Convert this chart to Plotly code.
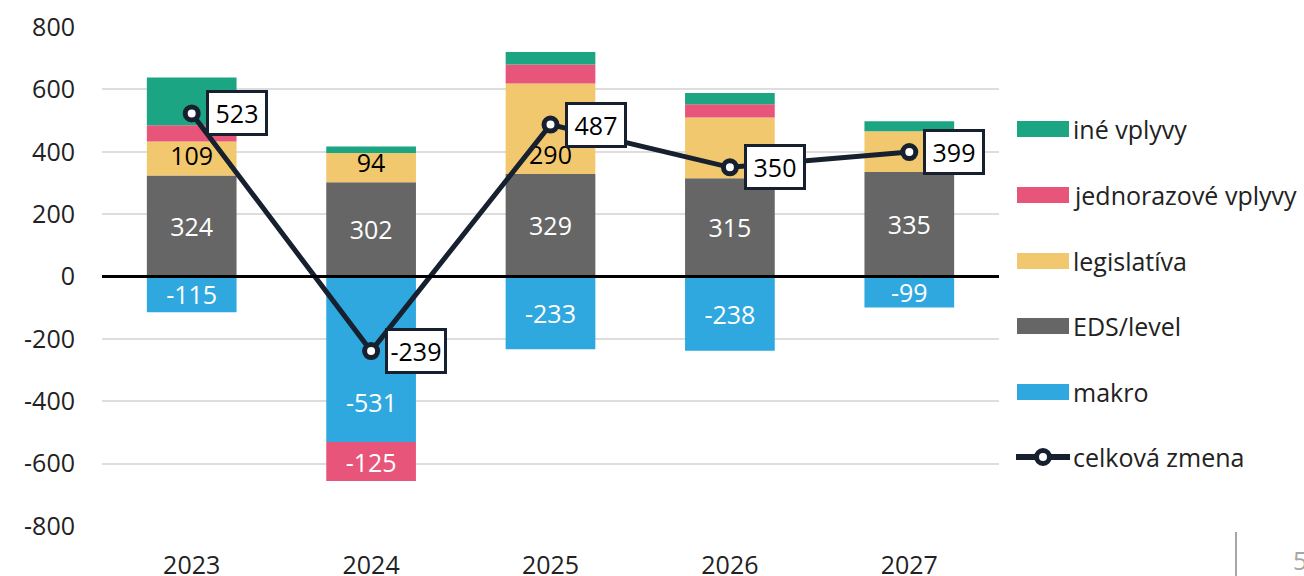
import plotly.graph_objects as go

# ---------------- data ----------------
years = ["2023", "2024", "2025", "2026", "2027"]
makro = [-115, -531, -233, -238, -99]
eds_level = [324, 302, 329, 315, 335]
legislativa = [109, 94, 290, 195, 131]
jednorazove = [52, -125, 61, 42, 0]
ine_vplyvy = [153, 21, 40, 36, 32]
celkova_zmena = [523, -239, 487, 350, 399]

y_ticks = [-800, -600, -400, -200, 0, 200, 400, 600, 800]
label_legislativa = [True, True, True, False, False]
label_jednorazove = [False, True, False, False, False]

# ---------------- styles ----------------
C_INE = "#1ba582"
C_JED = "#e8557a"
C_LEG = "#f2c86e"
C_EDS = "#666666"
C_MAK = "#2fa8df"
C_LINE = "#16202e"
FONT = "Open Sans"
FS = 25

W, H = 1304, 576
L, R, T, B = 102, 999, 27, 526


def px(x):
    return (x - L) / (R - L)


def py(y):
    return (B - y) / (B - T)


fig = go.Figure()

bar_common = dict(x=years, textposition="inside", insidetextanchor="middle",
                  textangle=0, marker_line_width=0, hoverinfo="skip",
                  showlegend=False, cliponaxis=False)

fig.add_trace(go.Bar(y=makro, name="makro", marker_color=C_MAK,
                     text=[str(v) if i != 1 else "" for i, v in enumerate(makro)],
                     insidetextfont=dict(color="white", family=FONT, size=FS),
                     **bar_common))
fig.add_trace(go.Bar(y=eds_level, name="EDS/level", marker_color=C_EDS,
                     text=[str(v) for v in eds_level],
                     insidetextfont=dict(color="white", family=FONT, size=FS),
                     **bar_common))
leg_common = dict(bar_common)
leg_common["insidetextanchor"] = "start"
fig.add_trace(go.Bar(y=legislativa, name="legislatíva", marker_color=C_LEG,
                     text=[str(v) if s else "" for v, s in zip(legislativa, label_legislativa)],
                     insidetextfont=dict(color="black", family=FONT, size=FS),
                     **leg_common))
fig.add_trace(go.Bar(y=jednorazove, name="jednorazové vplyvy", marker_color=C_JED,
                     text=[str(v) if s else "" for v, s in zip(jednorazove, label_jednorazove)],
                     insidetextfont=dict(color="white", family=FONT, size=FS),
                     **bar_common))
fig.add_trace(go.Bar(y=ine_vplyvy, name="iné vplyvy", marker_color=C_INE,
                     text=["" for _ in ine_vplyvy],
                     **bar_common))
fig.add_trace(go.Scatter(x=years, y=celkova_zmena, mode="lines+markers",
                         name="celková zmena",
                         line=dict(color=C_LINE, width=5),
                         marker=dict(size=13, color="white",
                                     line=dict(color=C_LINE, width=5)),
                         hoverinfo="skip", showlegend=False, cliponaxis=False))

annotations = []
# total-change labels (category index positions)
for i, v in enumerate(celkova_zmena):
    annotations.append(dict(x=i, y=v, xref="x", yref="y", text=str(v),
                            showarrow=False, xanchor="left", yanchor="middle",
                            xshift=14, bgcolor="white", bordercolor=C_LINE,
                            borderwidth=3, borderpad=3, width=50, height=34,
                            font=dict(family=FONT, size=FS, color="black")))
# makro label of 2024 (placed lower inside the bar, as in the original)
annotations.append(dict(x=1, y=makro[1] * 0.755, xref="x", yref="y",
                        text=str(makro[1]), showarrow=False,
                        font=dict(family=FONT, size=FS, color="white")))

shapes = []
# zero line above bars
shapes.append(dict(type="line", xref="paper", yref="y", x0=0, x1=1, y0=0, y1=0,
                   line=dict(color="black", width=3), layer="above"))

# custom legend
legend_items = [("iné vplyvy", C_INE, 129), ("jednorazové vplyvy", C_JED, 195),
                ("legislatíva", C_LEG, 261), ("EDS/level", C_EDS, 326),
                ("makro", C_MAK, 392)]
for name, col, yc in legend_items:
    shapes.append(dict(type="rect", xref="paper", yref="paper",
                       x0=px(1017), x1=px(1069), y0=py(yc + 8), y1=py(yc - 8),
                       fillcolor=col, line_width=0))
    annotations.append(dict(x=px(1071), y=py(yc), xref="paper", yref="paper",
                            text=name, showarrow=False, xanchor="left",
                            yanchor="middle",
                            font=dict(family=FONT, size=FS, color="#222222")))
yc = 457
shapes.append(dict(type="line", xref="paper", yref="paper",
                   x0=px(1016), x1=px(1070), y0=py(yc), y1=py(yc),
                   line=dict(color=C_LINE, width=6)))
shapes.append(dict(type="circle", xref="paper", yref="paper",
                   x0=px(1043 - 6.5), x1=px(1043 + 6.5), y0=py(yc + 6.5), y1=py(yc - 6.5),
                   fillcolor="white", line=dict(color=C_LINE, width=5)))
annotations.append(dict(x=px(1071), y=py(yc), xref="paper", yref="paper",
                        text="celková zmena", showarrow=False, xanchor="left",
                        yanchor="middle",
                        font=dict(family=FONT, size=FS, color="#222222")))

# slide page-number artefacts
shapes.append(dict(type="line", xref="paper", yref="paper",
                   x0=px(1236), x1=px(1236), y0=py(532), y1=py(580),
                   line=dict(color="#888888", width=1.5)))
annotations.append(dict(x=px(1291), y=py(560), xref="paper", yref="paper",
                        text="5", showarrow=False, xanchor="left", yanchor="middle",
                        font=dict(family=FONT, size=FS, color="#a6a6a6")))

fig.update_layout(
    width=W, height=H,
    margin=dict(l=L, r=W - R, t=T, b=H - B, pad=0, autoexpand=False),
    barmode="relative", bargap=0.5,
    paper_bgcolor="white", plot_bgcolor="white",
    font=dict(family=FONT, size=FS, color="#222222"),
    uniformtext=dict(minsize=FS, mode="show"),
    annotations=annotations, shapes=shapes,
    showlegend=False,
)
fig.update_xaxes(type="category", range=[-0.5, len(years) - 0.5], autorange=False,
                 automargin=False, showgrid=False, zeroline=False, showline=False,
                 ticks="", ticklabelstandoff=22,
                 tickfont=dict(family=FONT, size=FS, color="#222222"))
fig.update_yaxes(range=[y_ticks[0], y_ticks[-1]], autorange=False, automargin=False,
                 tickmode="array", tickvals=y_ticks,
                 ticktext=[str(v) for v in y_ticks],
                 showgrid=True, gridcolor="#dddddd",
                 gridwidth=1.5, zeroline=False, showline=False, ticks="",
                 ticklabelstandoff=26,
                 tickfont=dict(family=FONT, size=FS, color="#222222"))

fig.write_html("out.html", config={"displayModeBar": False},
               post_script="document.body.style.margin='0';document.body.style.overflow='hidden';")
